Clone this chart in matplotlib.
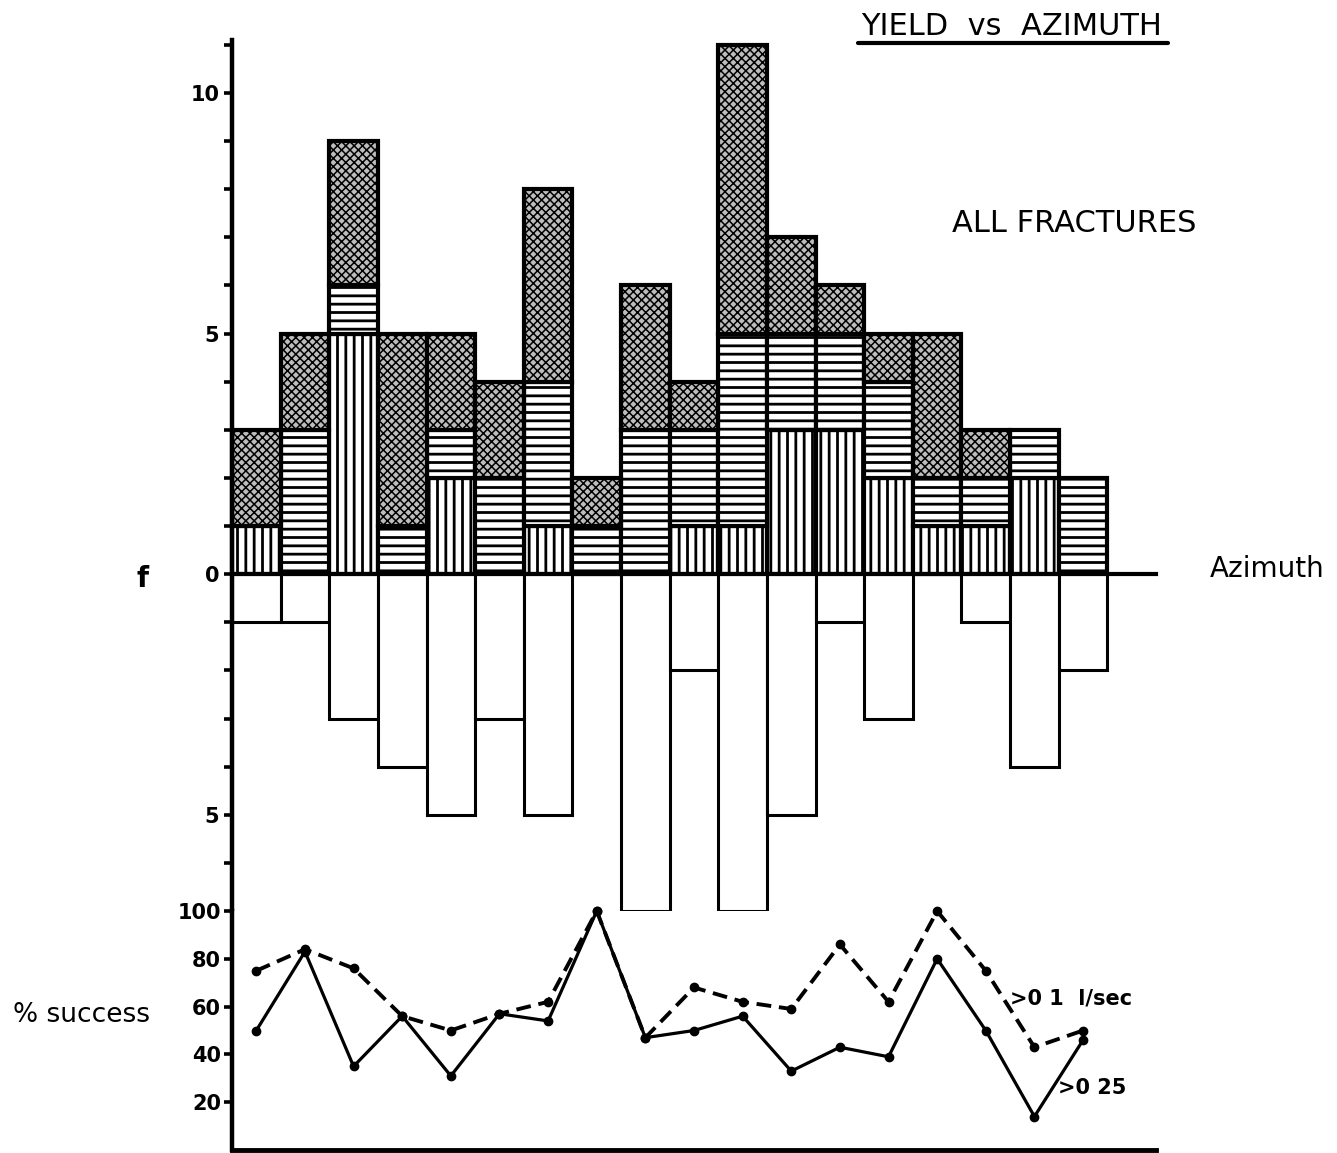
import matplotlib
matplotlib.use("Agg")
import matplotlib.pyplot as plt
from matplotlib.lines import Line2D
import numpy as np

# ---------------- data ----------------
azimuth_bins = np.arange(0, 180, 10)          # left edges of 10-degree classes
vertical_hatched = [1, 0, 5, 0, 2, 0, 1, 0, 0, 1, 1, 3, 3, 2, 1, 1, 2, 0]
horizontal_hatched = [0, 3, 1, 1, 1, 2, 3, 1, 3, 2, 4, 2, 2, 2, 1, 1, 1, 2]
stippled = [2, 2, 3, 4, 2, 2, 4, 1, 3, 1, 6, 2, 1, 1, 3, 1, 0, 0]
lower_counts = [1, 1, 3, 4, 5, 3, 5, 0, 7, 2, 7, 5, 1, 3, 0, 1, 4, 2]
success_01 = [75, 84, 76, 56, 50, 57, 62, 100, 47, 68, 62, 59, 86, 62, 100, 75, 43, 50]
success_025 = [50, 83, 35, 56, 31, 57, 54, 100, 47, 50, 56, 33, 43, 39, 80, 50, 14, 46]
upper_tick_labels = {0: "0", 5: "5", 10: "10", -5: "5"}
pct_ticks = [20, 40, 60, 80, 100]

plt.rcParams["font.family"] = ["DejaVu Sans"]
plt.rcParams["hatch.linewidth"] = 2.0

W, H = 1337, 1153
fig = plt.figure(figsize=(W / 100, H / 100), dpi=100)


def fx(px):
    return px / W


def fy(py):
    return 1 - py / H


ax = fig.add_axes([fx(232), fy(911), fx(1156) - fx(232), fy(40) - fy(911)])
ax2 = fig.add_axes([fx(232), fy(1150), fx(1156) - fx(232), fy(911) - fy(1150)])

bins = np.asarray(azimuth_bins, dtype=float)
v = np.asarray(vertical_hatched, float)
h = np.asarray(horizontal_hatched, float)
s = np.asarray(stippled, float)
low = np.asarray(lower_counts, float)


def draw(values, bottoms, hatch, hlw, face="white", lw=3.0):
    m = values > 0
    bars = ax.bar(bins[m], values[m], width=10, align="edge", bottom=bottoms[m],
                  facecolor=face, edgecolor="black", hatch=hatch,
                  linewidth=lw, clip_on=False, zorder=2)
    for b in bars:
        if hasattr(b, "set_hatch_linewidth"):
            b.set_hatch_linewidth(hlw)
    return bars


with plt.rc_context({"hatch.linewidth": 2.0}):
    draw(v, np.zeros_like(v), "||", 2.0)
with plt.rc_context({"hatch.linewidth": 2.0}):
    draw(h, v, "--", 2.0)
with plt.rc_context({"hatch.linewidth": 1.1}):
    draw(s, v + h, "xxxx", 1.1, face="#bdbdbd")

m = low > 0
ax.bar(bins[m], -low[m], width=10, align="edge", facecolor="white",
       edgecolor="black", linewidth=2.2, clip_on=False, zorder=2)

ax.axhline(0, color="black", lw=3.0, zorder=3, clip_on=False)

ax.set_xlim(0, 190)
ax.set_ylim(-7, 11.1)
for sp in ["top", "right", "bottom"]:
    ax.spines[sp].set_visible(False)
ax.spines["left"].set_linewidth(3.2)
ax.set_xticks([])
yt = list(range(-6, 12))
ax.set_yticks(yt)
ax.set_yticklabels([upper_tick_labels.get(t, "") for t in yt])
ax.tick_params(axis="y", direction="out", length=6, width=2.6, pad=3,
               labelsize=15)
for lab in ax.get_yticklabels():
    lab.set_fontweight("bold")

# ---------------- percent success ----------------
centers = bins + 5
ax2.plot(centers, success_025, color="black", lw=2.3, marker="o", ms=6,
         clip_on=False, zorder=3)
ax2.plot(centers, success_01, color="black", lw=2.8, dashes=(3.8, 2.0),
         marker="o", ms=6, clip_on=False, zorder=3)
ax2.set_xlim(0, 190)
ax2.set_ylim(0, 100)
ax2.spines["top"].set_visible(False)
ax2.spines["right"].set_visible(False)
ax2.spines["left"].set_linewidth(3.2)
ax2.spines["bottom"].set_linewidth(3.5)
ax2.set_xticks([])
ax2.set_yticks(pct_ticks)
ax2.tick_params(axis="y", direction="out", length=6, width=2.6, pad=2,
                labelsize=15)
for lab in ax2.get_yticklabels():
    lab.set_fontweight("bold")

# ---------------- texts ----------------
fig.text(fx(1012), fy(35), "YIELD  vs  AZIMUTH", ha="center", va="baseline",
         fontsize=22)
fig.add_artist(Line2D([fx(858), fx(1168)], [fy(43), fy(43)], color="black",
                      lw=3.0, solid_capstyle="round"))
fig.text(fx(952), fy(232), "ALL FRACTURES", ha="left", va="baseline",
         fontsize=22)
fig.text(fx(1210), fy(577), "Azimuth", ha="left", va="baseline", fontsize=20)
fig.text(fx(143), fy(587), "f", ha="center", va="baseline", fontsize=20,
         fontweight="bold")
fig.text(fx(13), fy(1022), "% success", ha="left", va="baseline", fontsize=19)
fig.text(fx(1010), fy(1005), ">0 1  l/sec", ha="left", va="baseline",
         fontsize=15, fontweight="bold")
fig.text(fx(1058), fy(1094), ">0 25", ha="left", va="baseline",
         fontsize=15, fontweight="bold")

fig.savefig("out.png", dpi=100)
